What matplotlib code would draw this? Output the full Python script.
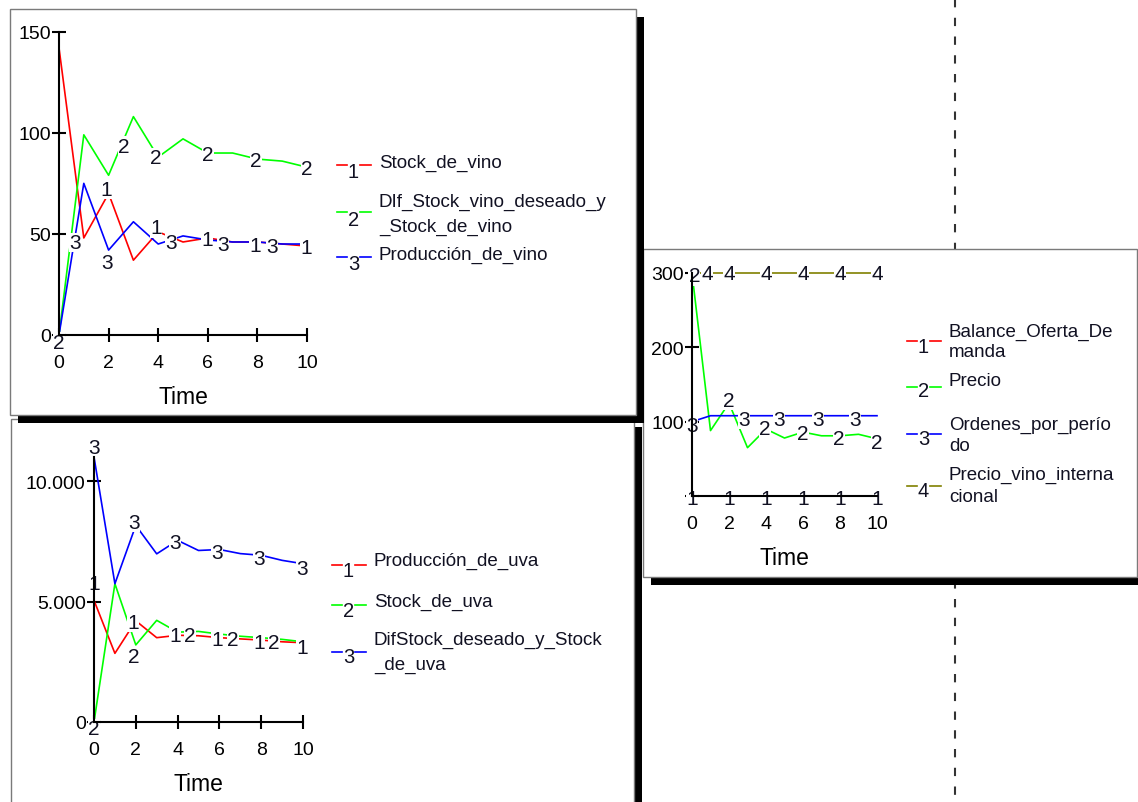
import numpy as np
import matplotlib
matplotlib.use("Agg")
import matplotlib.pyplot as plt
from matplotlib.patches import Rectangle

plt.rcParams["font.family"] = ["Liberation Sans", "DejaVu Sans"]

time = [0, 1, 2, 3, 4, 5, 6, 7, 8, 9, 10]
x_ticks = [0, 2, 4, 6, 8, 10]

# panel 1: vino
stock_vino = [142, 48, 70, 37, 51, 46, 48, 46, 46, 45, 44]
dif_stock_vino = [0, 99, 79, 108, 88, 97, 90, 90, 87, 86, 83]
produccion_vino = [0, 75, 42, 56, 45, 49, 47, 46, 46, 45, 45]
names_vino = ["Stock_de_vino", "DIf_Stock_vino_deseado_y\n_Stock_de_vino", "Producción_de_vino"]

# panel 2: uva
produccion_uva = [5050, 2850, 4200, 3500, 3600, 3580, 3500, 3450, 3400, 3330, 3290]
stock_uva = [0, 5740, 3200, 4220, 3730, 3760, 3650, 3560, 3500, 3430, 3330]
dif_stock_uva = [11000, 5740, 8160, 6980, 7540, 7120, 7160, 6990, 6920, 6710, 6570]
names_uva = ["Producción_de_uva", "Stock_de_uva", "DifStock_deseado_y_Stock\n_de_uva"]

# panel 3: precios
balance = [0, 0, 0, 0, 0, 0, 0, 0, 0, 0, 0]
precio = [300, 88, 125, 65, 90, 78, 86, 81, 81, 83, 77]
ordenes = [100, 108, 108, 108, 108, 108, 108, 108, 108, 108, 108]
precio_int = [300, 300, 300, 300, 300, 300, 300, 300, 300, 300, 300]
names_precio = ["Balance_Oferta_De\nmanda", "Precio", "Ordenes_por_perío\ndo", "Precio_vino_interna\ncional"]

# numeric tags along the curves (time, value)
tags_vino = [
    ([1.91, 3.93, 5.96, 7.9, 9.97], [72, 53, 47.4, 44.4, 43.2]),
    ([0, 2.6, 3.9, 6.0, 7.95, 10], [-3.5, 93.4, 87.7, 89.3, 86.5, 82.2]),
    ([0.63, 1.94, 4.5, 6.6, 8.6], [45.7, 35.9, 45.7, 44.9, 43.8]),
]
tags_uva = [
    ([0, 1.88, 3.88, 5.9, 7.88, 9.95], [5740, 4120, 3600, 3430, 3290, 3110]),
    ([0, 1.88, 4.6, 6.65, 8.6], [-280, 2700, 3600, 3430, 3290]),
    ([0, 1.92, 3.88, 5.9, 7.88, 9.95], [11410, 8300, 7470, 7050, 6800, 6390]),
]
tags_precio = [
    ([0, 2, 4, 6, 8, 10], [-3, -3, -3, -3, -3, -3]),
    ([0.13, 2, 3.95, 6, 7.95, 10], [296, 128.5, 90.5, 84.6, 78, 72.5]),
    ([0, 2.8, 4.7, 6.8, 8.8], [95, 103, 103, 103, 103]),
    ([0.81, 2, 4, 6, 8, 10], [299, 299, 299, 299, 299, 299]),
]

colors = ["#ff0000", "#00ff00", "#0000ff", "#808000"]
ink = "#111122"

W, H = 1138, 803
fig = plt.figure(figsize=(W / 100, H / 100), dpi=100)

# background layer in pixel units: frames, shadows, dashed guide, legends
bg = fig.add_axes([0, 0, 1, 1])
bg.set_xlim(0, W)
bg.set_ylim(H, 0)
bg.axis("off")
bg.plot([955, 955], [0, H], color="#333333", lw=1.5, dashes=(4, 5), zorder=0)


def panel(x0, y0, x1, y1):
    bg.add_patch(Rectangle((x0 + 8, y0 + 8), x1 - x0, y1 - y0, fc="black", ec="none", zorder=1))
    bg.add_patch(Rectangle((x0, y0), x1 - x0, y1 - y0, fc="white", ec="#7a7a7a", lw=1, zorder=1))


panel(643, 250, 1137, 578)
panel(11, 420, 634, 840)
panel(10, 10, 636, 416)


def legend(x_dash, rows, names):
    for i, (text_y, num_y, dash_y) in enumerate(rows):
        c = colors[i]
        bg.plot([x_dash, x_dash + 10], [dash_y, dash_y], color=c, lw=1.2, zorder=2)
        bg.plot([x_dash + 23, x_dash + 34], [dash_y, dash_y], color=c, lw=1.2, zorder=2)
        bg.text(x_dash + 16.5, num_y, str(i + 1), ha="center", va="center", fontsize=14.5, color=ink, zorder=2)
        for j, line in enumerate(names[i].split("\n")):
            bg.text(x_dash + 42, text_y[j], line, ha="left", va="center", fontsize=13.5, color=ink, zorder=2)


legend(337, [([163], 172, 166), ([202, 227], 220, 213), ([255], 265, 258)], names_vino)
legend(332, [([561], 572, 566), ([602], 612, 606), ([640, 665], 658, 653)], names_uva)
legend(907, [([332, 353], 348, 342), ([382], 392, 388), ([425, 447], 440, 435), ([475, 498], 492, 487)], names_precio)


def chart(rect, series, tags, ylim, yticks, yticklabels):
    ax = fig.add_axes(rect)
    ax.set_facecolor("none")
    for i, vals in enumerate(series):
        ax.plot(time, vals, color=colors[i], lw=1.2, zorder=2, clip_on=False)
        tt, tv = tags[i]
        for t, v in zip(tt, tv):
            ax.text(t, v, str(i + 1), ha="center", va="center", fontsize=15, color=ink, zorder=3,
                    clip_on=False, bbox=dict(fc="white", ec="none", pad=0.2))
    ax.set_xlim(0, 10)
    ax.set_ylim(*ylim)
    ax.set_xticks(x_ticks)
    ax.set_yticks(yticks)
    ax.set_yticklabels(yticklabels)
    for s in ["top", "right"]:
        ax.spines[s].set_visible(False)
    for s in ["left", "bottom"]:
        ax.spines[s].set_linewidth(1.5)
        ax.spines[s].set_zorder(5)
    ax.tick_params(direction="inout", length=10, width=1.5, labelsize=14, colors="black")
    ax.tick_params(axis="x", pad=9)
    ax.tick_params(axis="y", pad=1)
    ax.set_xlabel("Time", fontsize=16.5, labelpad=10)
    return ax


chart([59 / W, 1 - 336 / H, 248 / W, 303.3 / H],
      [stock_vino, dif_stock_vino, produccion_vino], tags_vino,
      (0, 150), [0, 50, 100, 150], ["0", "50", "100", "150"])
chart([94 / W, 1 - 723 / H, 209 / W, 265 / H],
      [produccion_uva, stock_uva, dif_stock_uva], tags_uva,
      (0, 11000), [0, 5000, 10000], ["0", "5.000", "10.000"])
chart([692 / W, 1 - 497 / H, 185 / W, 223 / H],
      [balance, precio, ordenes, precio_int], tags_precio,
      (0, 300), [0, 100, 200, 300], ["", "100", "200", "300"])

fig.savefig("out.png", dpi=100)
